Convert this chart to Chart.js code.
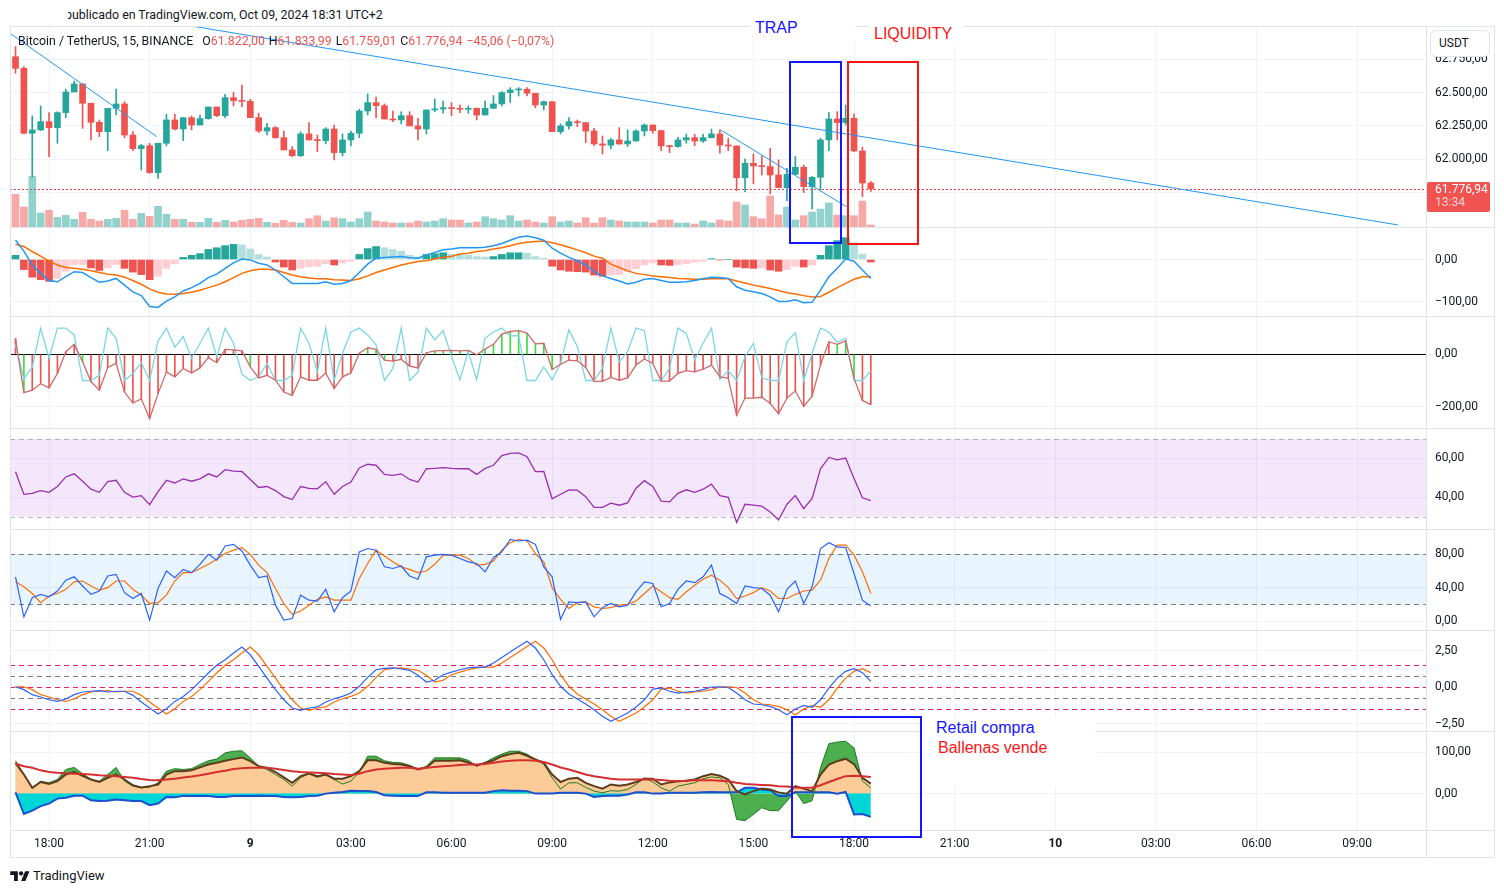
<!DOCTYPE html>
<html lang="es">
<head>
<meta charset="utf-8">
<title>BTCUSDT 15 - TradingView</title>
<script src="https://cdn.jsdelivr.net/npm/chart.js@4.4.1/dist/chart.umd.min.js"></script>
<style>
  body { margin:0; width:1504px; height:893px; position:relative; overflow:hidden; background:#fff; font-family: Roboto, "Noto Sans", sans-serif; color:#131722; }
  canvas { position:absolute; left:10px; z-index:1; }
  .abs { position:absolute; z-index:4; }
  .sep { position:absolute; left:10px; width:1484px; height:1px; background:#e0e3eb; z-index:3; }
  .anota { position:absolute; font-family:"Liberation Sans", Arial, sans-serif; font-size:16px; background:#fff; z-index:5; white-space:nowrap; }
  .caja { position:absolute; border:2px solid; z-index:5; }
  .leyenda { position:absolute; left:18px; top:34px; font-size:12.3px; line-height:14px; z-index:4; white-space:nowrap; display:flex; }
  .leyenda span.it { margin-left:4px; }
  .leyenda span.primero { margin-left:9px; }
  .rojo { color:#ef5350; }
</style>
</head>
<body>

<div class="abs" style="left:68px;top:6px;width:330px;height:17px;overflow:hidden;font-size:12.4px;line-height:17px;white-space:nowrap;"><span style="margin-left:-3px">publicado en TradingView.com, Oct 09, 2024 18:31 UTC+2</span></div>

<canvas id="p1" width="1484" height="200" style="top:27px"></canvas>
<canvas id="p2" width="1484" height="89" style="top:227px"></canvas>
<canvas id="p3" width="1484" height="112" style="top:316px"></canvas>
<canvas id="p4" width="1484" height="101" style="top:428px"></canvas>
<canvas id="p5" width="1484" height="101" style="top:529px"></canvas>
<canvas id="p6" width="1484" height="101" style="top:630px"></canvas>
<canvas id="p7" width="1484" height="126" style="top:731px"></canvas>

<div class="sep" style="top:26px"></div>
<div class="sep" style="top:227px"></div>
<div class="sep" style="top:316px"></div>
<div class="sep" style="top:428px"></div>
<div class="sep" style="top:529px"></div>
<div class="sep" style="top:630px"></div>
<div class="sep" style="top:731px"></div>
<div class="sep" style="top:830px"></div>
<div class="sep" style="top:857px"></div>
<div class="abs" style="left:10px;top:26px;width:1px;height:831px;background:#e0e3eb;"></div>
<div class="abs" style="left:1426px;top:26px;width:1px;height:831px;background:#e0e3eb;"></div>
<div class="abs" style="left:1494px;top:26px;width:1px;height:831px;background:#e0e3eb;"></div>

<div class="leyenda">
  <span>Bitcoin / TetherUS, 15, BINANCE</span>
  <span class="primero">O<span class="rojo" id="leyO"></span></span>
  <span class="it">H<span class="rojo" id="leyH"></span></span>
  <span class="it">L<span class="rojo" id="leyL"></span></span>
  <span class="it">C<span class="rojo" id="leyC"></span></span>
  <span class="it rojo" id="leyCambio"></span>
</div>

<div class="abs" style="left:1430px;top:30px;width:58px;height:25px;border:1px solid #e0e3eb;border-radius:6px;background:#fff;font-size:12px;line-height:25px;z-index:6;"><span style="margin-left:8px">USDT</span></div>

<div class="anota" style="left:750px;top:17px;width:105px;height:22px;line-height:22px;color:#1414ff;"><span style="margin-left:5px">TRAP</span></div>
<div class="anota" style="left:868px;top:22px;width:96px;height:24px;line-height:24px;color:#ff1414;"><span style="margin-left:6px">LIQUIDITY</span></div>
<div class="caja" style="left:789px;top:61px;width:49px;height:179px;border-color:#1414ff;"></div>
<div class="caja" style="left:847px;top:61px;width:68px;height:180px;border-color:#ff1414;"></div>
<div class="caja" style="left:791px;top:716px;width:127px;height:118px;border-color:#1414ff;"></div>
<div class="anota" style="left:922px;top:718px;width:173px;height:68px;">
  <div style="position:absolute;left:14px;top:0;line-height:19px;color:#1414ff;">Retail compra</div>
  <div style="position:absolute;left:16px;top:20px;line-height:19px;color:#ff1414;">Ballenas vende</div>
</div>

<div class="abs" style="left:10px;top:866px;height:18px;display:flex;align-items:center;font-size:13px;">
  <svg width="20" height="13" viewBox="0 0 36 24"><path d="M14 22H7V11H0V4h14v18z" fill="#131722"/><circle cx="20" cy="8" r="4" fill="#131722"/><path d="M28 22h-8l7.5-18h8L28 22z" fill="#131722"/></svg>
  <span style="margin-left:3px">TradingView</span>
</div>

<script>
// velas de 15 min, desde 17:00 del 8 oct hasta 18:30 del 9 oct
const apertura = [62769,62682,62195,62220,62282,62237,62350,62505,62565,62420,
  62277,62207,62382,62415,62182,62080,62102,61900,62120,62295,
  62227,62312,62257,62305,62392,62327,62462,62440,62435,62312,
  62212,62237,62162,62070,62027,62190,62145,62140,62227,62050,
  62145,62195,62362,62425,62402,62302,62295,62327,62250,62227,
  62370,62377,62387,62380,62375,62382,62332,62382,62415,62500,
  62520,62525,62495,62407,62432,62207,62250,62282,62275,62212,
  62115,62105,62145,62115,62137,62212,62257,62215,62100,62095,
  62145,62162,62137,62162,62190,62107,62100,61862,61970,61950,
  61945,61882,61787,61887,61940,61795,61865,62145,62302,62275,
  62307,62062,61822];
const cierre = [62682,62195,62220,62282,62237,62350,62505,62565,62420,62277,
  62207,62382,62415,62182,62080,62102,61900,62120,62295,62227,
  62312,62257,62305,62392,62327,62462,62440,62435,62312,62212,
  62237,62162,62070,62027,62190,62145,62140,62227,62050,62145,
  62195,62362,62425,62402,62302,62295,62327,62250,62227,62370,
  62377,62387,62380,62375,62382,62332,62382,62415,62500,62520,
  62525,62495,62407,62432,62207,62250,62282,62275,62212,62115,
  62105,62145,62115,62137,62212,62257,62215,62100,62095,62145,
  62162,62137,62162,62190,62107,62100,61862,61970,61950,61945,
  61882,61787,61887,61940,61795,61865,62145,62302,62275,62307,
  62062,61822,61776.94];
const maximo = [62845,62695,62325,62400,62350,62357,62525,62587,62565,62420,
  62295,62382,62527,62432,62207,62112,62120,62120,62337,62337,
  62312,62325,62332,62392,62392,62487,62502,62557,62450,62345,
  62270,62245,62212,62095,62207,62275,62182,62237,62257,62190,
  62212,62375,62490,62467,62415,62362,62357,62357,62307,62370,
  62452,62437,62425,62407,62400,62385,62437,62477,62507,62537,
  62537,62537,62495,62437,62432,62265,62312,62295,62275,62232,
  62175,62157,62237,62220,62220,62265,62257,62215,62102,62165,
  62190,62187,62187,62227,62220,62157,62100,62002,62040,62025,
  62082,61995,61932,62020,61957,61870,62157,62350,62357,62407,
  62340,62090,61833.99];
const minimo = [62645,62190,61867,62215,62020,62120,62312,62505,62232,62145,
  62170,62065,62332,62162,62065,61920,61895,61857,62100,62220,
  62140,62220,62257,62300,62320,62312,62400,62395,62312,62200,
  62182,62157,62070,62020,62020,62145,62057,62115,61995,62025,
  62100,62162,62332,62312,62302,62282,62265,62250,62145,62190,
  62357,62345,62327,62350,62345,62295,62332,62380,62400,62425,
  62475,62475,62387,62370,62207,62190,62225,62245,62125,62102,
  62040,62077,62112,62095,62135,62175,62195,62065,62050,62090,
  62120,62102,62127,62160,62045,62065,61765,61757,61815,61882,
  61740,61787,61690,61885,61750,61627,61770,62065,62145,62257,
  62057,61720,61759.01];
const volumen = [327,200,507,140,167,97,117,77,147,77,
  60,77,87,167,77,137,107,207,127,77,
  77,47,47,87,47,67,50,67,77,87,
  47,37,67,45,40,83,113,60,93,83,
  50,83,150,60,50,40,40,40,60,50,
  60,83,70,70,40,50,103,83,70,113,
  60,70,50,40,103,50,60,40,93,40,
  93,70,60,50,50,50,40,70,70,40,
  40,30,60,40,70,60,250,220,103,83,
  310,120,200,70,113,150,180,240,120,113,
  113,260,20];

const macdLinea = [46,20,-13,-33,-50,-53,-41,-29,-31,-43,
  -54,-51,-45,-61,-77,-86,-112,-114,-99,-89,
  -75,-67,-57,-43,-35,-21,-8,1,-1,-9,
  -13,-25,-41,-57,-57,-57,-57,-53,-59,-57,
  -50,-31,-11,3,5,6,7,4,3,11,
  17,23,25,28,28,28,29,33,38,46,
  53,56,52,46,27,15,5,-3,-13,-29,
  -39,-45,-51,-58,-54,-47,-45,-50,-54,-54,
  -53,-50,-46,-42,-43,-45,-65,-73,-77,-81,
  -89,-100,-100,-96,-103,-102,-73,-41,-21,1,
  -4,-25,-45];
const macdSenal = [36,31,19,8,-4,-13,-19,-21,-23,-27,
  -31,-35,-37,-42,-50,-59,-70,-78,-82,-83,
  -81,-78,-73,-67,-61,-53,-43,-33,-27,-23,
  -23,-25,-31,-37,-41,-44,-46,-46,-48,-49,
  -50,-46,-39,-31,-25,-19,-13,-9,-5,-3,
  1,5,8,13,15,19,21,25,28,33,
  38,41,43,44,40,35,29,23,16,8,
  3,-11,-19,-27,-33,-36,-39,-41,-43,-45,
  -46,-47,-47,-46,-46,-46,-51,-56,-61,-65,
  -69,-74,-79,-82,-86,-89,-88,-78,-67,-57,
  -47,-41,-41];
const macdHist = [10,-24,-42,-48,-52,-45,-28,-12,-12,-20,
  -26,-20,-12,-21,-30,-36,-48,-40,-21,-10,
  5,10,14,24,28,33,36,35,25,12,
  6,-6,-18,-25,-21,-17,-16,-10,-13,-8,
  -4,12,26,31,28,24,20,10,6,12,
  14,16,12,11,10,7,6,7,12,16,
  16,15,7,3,-16,-25,-28,-29,-30,-37,
  -40,-37,-36,-28,-22,-13,-8,-13,-14,-12,
  -10,-6,-4,2,-1,0,-18,-20,-21,-20,
  -25,-28,-24,-16,-18,-13,10,33,45,52,
  40,13,-6];

const oscLento = [61,-146,-137,-112,-128,-73,10,38,-28,-105,
  -137,-50,-35,-144,-186,-170,-246,-150,-67,-86,
  -54,-71,-52,-13,-32,19,17,13,-48,-90,
  -80,-99,-144,-157,-86,-99,-99,-71,-131,-86,
  -71,4,25,19,-22,-26,-19,-45,-52,6,
  13,14,15,13,15,-2,20,38,77,87,
  90,81,40,42,-58,-38,-22,-25,-50,-103,
  -103,-88,-99,-90,-41,-18,-35,-102,-102,-73,
  -62,-67,-57,-41,-86,-92,-233,-167,-167,-164,
  -188,-227,-167,-140,-199,-160,-41,48,38,51,
  -92,-176,-192];
const oscRapido = [36,-95,-48,100,-15,100,100,74,-100,-100,
  -80,100,61,-100,-73,-32,-100,51,100,27,
  68,-15,42,100,-9,100,42,-76,-100,-86,
  -35,-100,-100,-80,100,42,-67,100,-100,4,
  85,100,74,36,-100,-54,100,-100,-67,100,
  55,91,-9,-97,10,-97,62,85,100,70,
  71,-100,-100,-48,-97,-35,93,30,-100,-100,
  -54,100,-28,10,100,90,-100,-100,-54,100,
  80,-22,42,100,-97,-63,-100,-9,42,-89,
  -100,-100,48,83,-100,4,100,85,46,61,
  -100,-100,-63];
const oscVerdes = [1,8,28,42,43,44,50,51,52,53,54,56,57,58,59,60,61,62,63,64,98,99,100];

const rsi = [53.1,41.5,42.0,43.4,42.5,45.5,50.4,52.0,48.2,44.1,
  42.5,48.0,48.7,42.5,40.1,40.8,36.2,42.9,48.7,47.3,
  49.4,48.2,49.4,52.0,50.4,54.1,53.4,53.2,49.1,45.0,
  45.5,43.4,40.3,38.8,45.5,44.5,44.3,48.0,41.5,45.5,
  47.8,55.0,56.9,56.4,51.7,51.2,52.0,49.1,47.8,54.6,
  54.8,55.2,54.8,54.6,54.6,51.7,54.8,56.4,61.3,62.5,
  62.7,60.8,53.1,53.2,39.2,41.5,43.8,43.6,40.3,34.8,
  34.8,37.0,35.9,37.1,44.6,48.5,45.5,38.0,37.6,42.0,
  43.8,42.5,44.1,46.7,40.8,39.9,27.1,36.4,35.9,35.4,
  32.4,28.3,36.4,40.8,34.1,39.4,54.6,60.4,59.2,60.1,
  49.6,39.7,38.2];

const stochK = [53,5,28,32,29,36,49,53,42,32,
  36,54,56,34,27,33,1,39,60,52,
  62,58,68,80,73,90,92,84,67,52,
  54,19,1,3,31,25,24,38,11,28,
  36,83,87,85,65,63,66,54,50,77,
  79,80,79,75,71,69,59,76,83,98,
  96,97,92,65,53,2,23,22,23,5,
  16,21,17,19,35,47,45,17,21,38,
  48,46,53,67,33,28,21,42,40,39,
  31,11,38,48,21,41,87,94,89,88,
  57,25,18];
const stochD = [47,41,33,22,30,33,38,47,48,42,
  37,40,48,48,38,31,21,22,31,48,
  58,58,63,68,74,81,85,88,80,67,
  58,39,21,8,12,19,26,29,25,25,
  25,51,69,85,78,71,65,62,58,60,
  68,79,79,79,75,67,68,72,85,94,
  98,96,81,71,40,26,15,22,23,17,
  15,16,19,20,24,33,42,35,28,26,
  35,43,50,55,49,40,27,30,34,40,
  36,27,27,32,36,37,49,75,91,91,
  79,59,33];

const fisher = [0.04,-0.16,-0.50,-0.66,-0.85,-0.96,-0.80,-0.50,-0.32,-0.27,
  -0.23,-0.32,-0.27,-0.27,-0.55,-1.00,-1.41,-1.82,-1.46,-0.96,
  -0.62,-0.16,0.41,0.98,1.50,1.88,2.34,2.75,2.22,1.43,
  0.63,-0.16,-0.85,-1.41,-1.57,-1.41,-1.34,-1.00,-0.78,-0.62,
  -0.39,0.07,0.68,1.20,1.29,1.32,1.25,1.16,0.82,0.36,
  0.48,0.86,1.04,1.20,1.32,1.38,1.38,1.66,2.04,2.41,
  2.79,3.14,2.68,1.88,0.86,0.07,-0.46,-0.80,-1.14,-1.53,
  -1.98,-2.32,-2.04,-1.75,-1.34,-0.85,-0.12,-0.05,-0.27,-0.39,
  -0.32,-0.27,-0.16,0.02,0.04,-0.01,-0.39,-0.85,-1.14,-1.19,
  -1.30,-1.53,-1.87,-1.48,-1.23,-1.36,-0.85,-0.05,0.63,1.09,
  1.27,1.00,0.41];
const disparador = [0.04,0.04,-0.16,-0.50,-0.66,-0.85,-0.96,-0.80,-0.50,-0.32,
  -0.27,-0.23,-0.32,-0.27,-0.27,-0.55,-1.00,-1.41,-1.82,-1.46,
  -0.96,-0.62,-0.16,0.41,0.98,1.50,1.88,2.34,2.75,2.22,
  1.43,0.63,-0.16,-0.85,-1.41,-1.57,-1.41,-1.34,-1.00,-0.78,
  -0.62,-0.39,0.07,0.68,1.20,1.29,1.32,1.25,1.16,0.82,
  0.36,0.48,0.86,1.04,1.20,1.32,1.38,1.38,1.66,2.04,
  2.41,2.79,3.14,2.68,1.88,0.86,0.07,-0.46,-0.80,-1.14,
  -1.53,-1.98,-2.32,-2.04,-1.75,-1.34,-0.85,-0.12,-0.05,-0.27,
  -0.39,-0.32,-0.27,-0.16,0.02,0.04,-0.01,-0.39,-0.85,-1.14,
  -1.19,-1.30,-1.53,-1.87,-1.48,-1.23,-1.36,-0.85,-0.05,0.63,
  1.09,1.27,1.00];

const ballenas = [79,46,14,30,26,34,58,63,48,34,
  30,46,63,30,18,14,15,26,54,60,
  58,60,70,79,83,98,102,103,86,66,
  58,46,34,18,38,48,39,46,34,23,
  30,52,90,90,79,75,74,68,58,66,
  86,86,86,86,80,66,75,86,95,102,
  102,95,82,71,38,11,26,26,15,6,
  2,7,6,10,22,38,28,14,6,18,
  22,26,36,40,38,22,-62,-65,-50,-34,
  -41,-41,-18,6,-24,-17,62,120,124,126,
  110,30,14];
const minoristas = [74,46,14,28,23,30,46,52,43,34,
  28,38,46,34,20,15,18,22,46,54,
  54,56,63,70,74,79,83,87,78,66,
  62,52,39,26,42,48,42,46,36,36,
  42,54,80,80,74,71,70,66,58,63,
  79,79,79,80,75,68,74,80,90,95,
  98,91,82,74,46,28,36,38,26,18,
  12,22,19,22,28,36,36,22,27,30,
  31,34,42,47,43,34,6,-2,6,12,
  10,3,0,18,12,6,46,70,78,84,
  71,38,24];
const flujo = [3,-49,-41,-30,-24,-12,-10,-5,-5,-16,
  -18,-17,-14,-16,-18,-18,-28,-24,-8,-9,
  -5,-6,-6,-6,-8,-8,-6,-6,-6,-5,
  -6,-6,-8,-9,-8,-6,-5,0,2,4,
  7,6,6,4,-4,-5,-6,-6,-6,3,
  3,2,2,2,2,2,2,6,8,7,
  7,6,0,0,0,2,2,2,0,-8,
  -6,-5,-5,-2,3,3,0,0,2,2,
  2,2,3,4,3,3,3,14,14,10,
  8,-6,-6,3,3,3,3,3,0,4,
  -50,-49,-56];
const mediaRoja = [72,66,62,56,52,50,49,48,47,46,
  44,43,42,40,38,35,33,32,34,36,
  39,41,44,48,52,55,59,61,62,62,
  62,60,57,54,52,51,50,49,47,46,
  45,48,54,58,60,61,62,62,60,62,
  64,66,67,69,70,70,71,74,77,79,
  80,80,79,76,70,63,58,52,46,42,
  39,36,34,34,34,34,34,33,31,30,
  31,32,32,32,31,30,26,23,22,21,
  20,18,17,15,14,14,20,28,35,42,
  43,42,40];

// lineas de tendencia dibujadas (indice de vela, precio)
const tendLargaX = [0, 164.9], tendLargaY = [63217, 61507];
const tendCorta1X = [-0.66, 16.84], tendCorta1Y = [62945, 62170];
const tendCorta2X = [84.1, 99.1], tendCorta2Y = [62220, 61644];

const horasIdx = [4,16,28,40,52,64,76,88,100,112,124,136,148,160];
const horasTxt = ['18:00','21:00','9','03:00','06:00','09:00','12:00','15:00','18:00','21:00','10','03:00','06:00','09:00'];
const diasIdx = [28, 124];

const marcasPrecio = [62750, 62500, 62250, 62000, 61750];
const marcasMacd = [0, -100];
const marcasOsc = [0, -200];
const marcasRsi = [60, 40];
const marcasStoch = [80, 40, 0];
const marcasFisher = [2.5, 0, -2.5];
const marcasFlujo = [100, 0];
const cuentaAtras = '13:34';

const nivelesRsi = [70, 30];
const nivelesStoch = [80, 20];
const nivelesFisher = [1.5, 0.75, 0, -0.75, -1.5];

const fuente = 'Roboto, "Noto Sans", sans-serif';
const xMin = -0.656, xMax = 168.21;

Chart.defaults.font.family = fuente;
Chart.defaults.elements.point.radius = 0;
Chart.defaults.elements.line.borderWidth = 1.3;

function formatear(v) {
  const partes = Math.abs(v).toFixed(2).split('.');
  const entero = partes[0].replace(/\B(?=(\d{3})+(?!\d))/g, '.');
  return (v < 0 ? '\u2212' : '') + entero + ',' + partes[1];
}

const puntos = serie => serie.map((v, i) => ({ x: i, y: v }));
const tramo = (xs, ys) => xs.map((x, k) => ({ x: x, y: ys[k] }));
const indices = cierre.map((_, i) => i);

function ejeX(conEtiquetas) {
  return {
    type: 'linear', min: xMin, max: xMax, offset: false,
    grid: { color: '#f0f3fa', drawTicks: false, offset: false },
    border: { display: false },
    ticks: {
      display: conEtiquetas, autoSkip: false, maxRotation: 0, padding: 7, color: '#131722',
      font: ctx => ({ family: fuente, size: 12, weight: (ctx.tick && diasIdx.includes(ctx.tick.value)) ? 'bold' : 'normal' }),
      callback: (v, i) => horasTxt[i]
    },
    afterBuildTicks: s => { s.ticks = horasIdx.map(v => ({ value: v })); },
    afterFit: s => { s.height = conEtiquetas ? 27 : 0; s.paddingLeft = 0; s.paddingRight = 0; }
  };
}

function ejeY(min, max, marcas, colorRejilla) {
  return {
    position: 'right', min: min, max: max,
    grid: { color: colorRejilla || '#f0f3fa', drawTicks: false },
    border: { color: '#e0e3eb' },
    ticks: { padding: 9, color: '#131722', font: { family: fuente, size: 12 }, callback: v => formatear(v) },
    afterBuildTicks: s => { s.ticks = marcas.map(v => ({ value: v })); },
    afterFit: s => { s.width = 68; s.paddingTop = 0; s.paddingBottom = 0; }
  };
}

// bandas y niveles horizontales, por panel
const decoraciones = {
  p4: { banda: [30, 70], colorBanda: 'rgba(155,38,230,0.11)', niveles: nivelesRsi, colores: ['rgba(120,123,134,0.5)', 'rgba(120,123,134,0.5)'] },
  p5: { banda: [20, 80], colorBanda: 'rgba(33,150,243,0.1)', niveles: nivelesStoch, colores: ['#787b86', '#787b86'] },
  p6: { niveles: nivelesFisher, colores: ['#e91e63', '#787b86', '#e91e63', '#787b86', '#e91e63'] }
};

Chart.register({
  id: 'deco',
  beforeDatasetsDraw(chart) {
    const o = decoraciones[chart.canvas.id];
    if (!o) return;
    const { ctx, chartArea: a, scales: { y } } = chart;
    ctx.save();
    if (o.banda) {
      const t = y.getPixelForValue(o.banda[1]), b = y.getPixelForValue(o.banda[0]);
      ctx.fillStyle = o.colorBanda;
      ctx.fillRect(a.left, t, a.right - a.left, b - t);
    }
    o.niveles.forEach((v, k) => {
      const py = Math.round(y.getPixelForValue(v)) + 0.5;
      ctx.strokeStyle = o.colores[k]; ctx.lineWidth = 1; ctx.setLineDash([5, 4]);
      ctx.beginPath(); ctx.moveTo(a.left, py); ctx.lineTo(a.right, py); ctx.stroke();
    });
    ctx.restore();
  }
});

const precioActual = {
  id: 'precioActual',
  beforeDatasetsDraw(chart) {
    const { ctx, chartArea: a, scales: { y } } = chart;
    const py = Math.round(y.getPixelForValue(cierre[cierre.length - 1])) + 0.5;
    ctx.save();
    ctx.strokeStyle = '#f23645'; ctx.lineWidth = 1; ctx.setLineDash([2, 2]);
    ctx.beginPath(); ctx.moveTo(a.left, py); ctx.lineTo(a.right, py); ctx.stroke();
    ctx.restore();
  },
  afterDraw(chart) {
    const { ctx, chartArea: a, scales: { y } } = chart;
    const py = y.getPixelForValue(cierre[cierre.length - 1]);
    ctx.save();
    ctx.fillStyle = '#f05350';
    ctx.beginPath(); ctx.roundRect(a.right + 1, py - 7, 63, 30, 2); ctx.fill();
    ctx.font = '12px ' + fuente; ctx.textBaseline = 'middle';
    ctx.fillStyle = '#ffffff';
    ctx.fillText(formatear(cierre[cierre.length - 1]), a.right + 9, py + 1);
    ctx.fillStyle = 'rgba(255,255,255,0.75)';
    ctx.fillText(cuentaAtras, a.right + 9, py + 14);
    ctx.restore();
  }
};

function crearPanel(id, tipo, datasets, yCfg, extra) {
  extra = extra || {};
  const scales = Object.assign({ x: ejeX(!!extra.etiquetasX), y: yCfg }, extra.escalas || {});
  return new Chart(document.getElementById(id), {
    type: tipo,
    data: { datasets: datasets },
    options: {
      responsive: false, animation: false, devicePixelRatio: 1,
      layout: { padding: 0 },
      plugins: { legend: { display: false }, tooltip: { enabled: false } },
      scales: scales
    },
    plugins: extra.plugins || []
  });
}

// panel de precio
const colorVela = indices.map(i => cierre[i] >= apertura[i] ? '#26a69a' : '#ef5350');
const colorVol = indices.map(i => cierre[i] >= apertura[i] ? 'rgba(38,166,154,0.5)' : 'rgba(239,83,80,0.5)');

crearPanel('p1', 'bar', [
  { type: 'line', data: tramo(tendLargaX, tendLargaY), borderColor: '#2196f3', borderWidth: 1, order: -1 },
  { type: 'line', data: tramo(tendCorta1X, tendCorta1Y), borderColor: '#2196f3', borderWidth: 1, order: -1 },
  { type: 'line', data: tramo(tendCorta2X, tendCorta2Y), borderColor: '#2196f3', borderWidth: 1, order: -1 },
  { data: indices.map(i => ({ x: i, y: [apertura[i], cierre[i]] })), backgroundColor: colorVela, barThickness: 6, minBarLength: 1, grouped: false, order: 0 },
  { data: indices.map(i => ({ x: i, y: [minimo[i], maximo[i]] })), backgroundColor: colorVela, barThickness: 1, grouped: false, order: 1 },
  { data: indices.map(i => ({ x: i, y: volumen[i] })), yAxisID: 'yv', backgroundColor: colorVol, barThickness: 7, grouped: false, order: 2 }
], ejeY(61492, 62992, marcasPrecio), {
  escalas: { yv: { display: false, min: 0, max: 2000 } },
  plugins: [precioActual]
});

// MACD
const colorHist = macdHist.map((h, i) => {
  const prev = i ? macdHist[i - 1] : h;
  if (h >= 0) return h >= prev ? '#26a69a' : '#b2dfdb';
  return h < prev ? '#ef5350' : '#ffcdd2';
});
crearPanel('p2', 'bar', [
  { type: 'line', data: puntos(macdLinea), borderColor: '#2196f3', borderWidth: 1.5, order: 0 },
  { type: 'line', data: puntos(macdSenal), borderColor: '#ff6d00', borderWidth: 1.5, order: 1 },
  { data: puntos(macdHist), backgroundColor: colorHist, barThickness: 7, grouped: false, order: 2 }
], ejeY(-134.5, 77.4, marcasMacd));

// oscilador con histograma de lineas
const colorOsc = indices.map(i => oscVerdes.includes(i) ? '#3fdc3f' : '#ef5350');
crearPanel('p3', 'bar', [
  { type: 'line', data: puntos(oscLento), borderColor: '#d06a6a', borderWidth: 1.3, order: 0 },
  { type: 'line', data: puntos(oscRapido), borderColor: '#7ad6e6', borderWidth: 1.3, order: 1 },
  { data: puntos(oscLento), backgroundColor: colorOsc, barThickness: 1, grouped: false, order: 2 }
], ejeY(-281.3, 146.2, marcasOsc, c => (c.tick && c.tick.value === 0) ? '#000000' : '#f0f3fa'));

// RSI
crearPanel('p4', 'line', [
  { data: puntos(rsi), borderColor: '#9a2fae', borderWidth: 1.3 }
], ejeY(23.7, 75.5, marcasRsi));

// Stoch RSI
crearPanel('p5', 'line', [
  { data: puntos(stochK), borderColor: '#2962ff', borderWidth: 1.2 },
  { data: puntos(stochD), borderColor: '#ff6d00', borderWidth: 1.2 }
], ejeY(-10.8, 110.4, marcasStoch));

// Fisher
crearPanel('p6', 'line', [
  { data: puntos(fisher), borderColor: '#2962ff', borderWidth: 1.2 },
  { data: puntos(disparador), borderColor: '#ff6d00', borderWidth: 1.2 }
], ejeY(-2.98, 3.91, marcasFisher));

// ballenas / minoristas
crearPanel('p7', 'line', [
  { data: puntos(mediaRoja), borderColor: '#d32f2f', borderWidth: 2, order: 0 },
  { data: puntos(minoristas), borderColor: '#5d3c1e', borderWidth: 2, order: 1 },
  { data: puntos(ballenas), borderColor: '#1e7b1e', borderWidth: 1, order: 2 },
  { data: puntos(flujo), borderColor: '#1a4fd0', borderWidth: 2, backgroundColor: '#00d6d6', fill: 'origin', order: 3 },
  { data: puntos(minoristas), borderWidth: 0, borderColor: 'rgba(0,0,0,0)', backgroundColor: '#fdcb98', fill: 'origin', order: 4 },
  { data: puntos(ballenas), borderWidth: 0, borderColor: 'rgba(0,0,0,0)', backgroundColor: '#4caf50', fill: 'origin', order: 5 }
], ejeY(-87.5, 150.6, marcasFlujo), { etiquetasX: true });

// leyenda OHLC de la ultima vela
const u = cierre.length - 1;
const cambio = cierre[u] - cierre[u - 1];
document.getElementById('leyO').textContent = formatear(apertura[u]);
document.getElementById('leyH').textContent = formatear(maximo[u]);
document.getElementById('leyL').textContent = formatear(minimo[u]);
document.getElementById('leyC').textContent = formatear(cierre[u]);
document.getElementById('leyCambio').textContent = formatear(cambio) + ' (' + formatear(cambio / cierre[u - 1] * 100) + '%)';
</script>
</body>
</html>
